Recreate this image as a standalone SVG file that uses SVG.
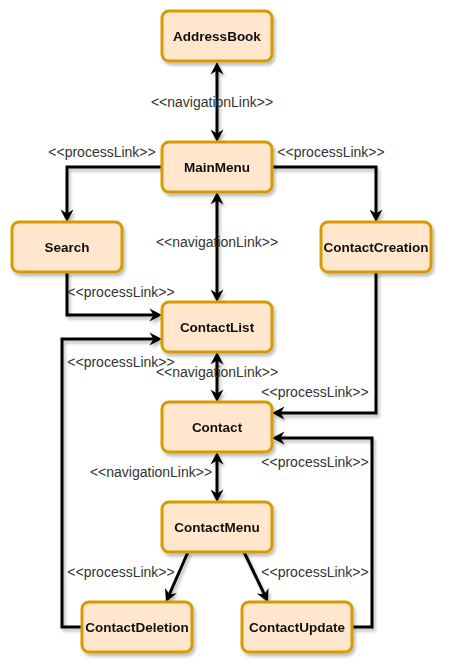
<svg xmlns="http://www.w3.org/2000/svg" width="450" height="672" viewBox="0 0 450 672">
<style>
.node rect{fill:#ffe6cc;stroke:#d79b00;stroke-width:3}
.node text{font-family:"Liberation Sans",Arial,sans-serif;font-size:13.5px;font-weight:bold;fill:#111;text-anchor:middle}
.edge{fill:none;stroke:#000;stroke-width:3}
.lbl{font-family:"Liberation Sans",Arial,sans-serif;font-size:14px;fill:#333;text-anchor:middle}
</style>
<defs>
<filter id="sh" x="-20%" y="-20%" width="140%" height="150%">
<feDropShadow dx="2" dy="3" stdDeviation="1.5" flood-color="#000" flood-opacity="0.25"/>
</filter>
<marker id="arr" viewBox="0 0 14 14" refX="9" refY="7" markerWidth="14" markerHeight="14" markerUnits="userSpaceOnUse" orient="auto-start-reverse">
<path d="M0.5,0.5 L13,7 L0.5,13.5 L4.5,7 Z" fill="#000"/>
</marker>
</defs>
<g id="connectors" filter="url(#sh)">
<path class="edge" d="M217,66 L217,138" marker-start="url(#arr)" marker-end="url(#arr)"/>
<path class="edge" d="M217,196 L217,298" marker-start="url(#arr)" marker-end="url(#arr)"/>
<path class="edge" d="M217,356 L217,398" marker-start="url(#arr)" marker-end="url(#arr)"/>
<path class="edge" d="M217,456 L217,498" marker-start="url(#arr)" marker-end="url(#arr)"/>
<path class="edge" d="M162,167 L67,167 L67,218" marker-end="url(#arr)"/>
<path class="edge" d="M272,167 L376,167 L376,218" marker-end="url(#arr)"/>
<path class="edge" d="M67,272 L67,315 L158,315" marker-end="url(#arr)"/>
<path class="edge" d="M82,627 L62,627 L62,339 L158,339" marker-end="url(#arr)"/>
<path class="edge" d="M376,272 L376,413 L276,413" marker-end="url(#arr)"/>
<path class="edge" d="M352,627 L372,627 L372,438 L276,438" marker-end="url(#arr)"/>
<path class="edge" d="M188,552 L167.6,598.3" marker-end="url(#arr)"/>
<path class="edge" d="M244,552 L266.3,598.4" marker-end="url(#arr)"/>
</g>
<g id="labels">
<text class="lbl" x="212" y="107">&lt;&lt;navigationLink&gt;&gt;</text>
<text class="lbl" x="102" y="157">&lt;&lt;processLink&gt;&gt;</text>
<text class="lbl" x="331" y="157">&lt;&lt;processLink&gt;&gt;</text>
<text class="lbl" x="217" y="247">&lt;&lt;navigationLink&gt;&gt;</text>
<text class="lbl" x="121" y="297">&lt;&lt;processLink&gt;&gt;</text>
<text class="lbl" x="121" y="367">&lt;&lt;processLink&gt;&gt;</text>
<text class="lbl" x="217" y="377">&lt;&lt;navigationLink&gt;&gt;</text>
<text class="lbl" x="315" y="397">&lt;&lt;processLink&gt;&gt;</text>
<text class="lbl" x="315" y="467">&lt;&lt;processLink&gt;&gt;</text>
<text class="lbl" x="151" y="477">&lt;&lt;navigationLink&gt;&gt;</text>
<text class="lbl" x="121" y="577">&lt;&lt;processLink&gt;&gt;</text>
<text class="lbl" x="315" y="577">&lt;&lt;processLink&gt;&gt;</text>
</g>
<g id="AddressBook" class="node" filter="url(#sh)"><rect x="162" y="11" width="110" height="50" rx="7"/><text x="217" y="41">AddressBook</text></g>
<g id="MainMenu" class="node" filter="url(#sh)"><rect x="162" y="142" width="110" height="50" rx="7"/><text x="217" y="172">MainMenu</text></g>
<g id="Search" class="node" filter="url(#sh)"><rect x="12" y="222" width="110" height="50" rx="7"/><text x="67" y="252">Search</text></g>
<g id="ContactCreation" class="node" filter="url(#sh)"><rect x="321" y="222" width="110" height="50" rx="7"/><text x="376" y="252">ContactCreation</text></g>
<g id="ContactList" class="node" filter="url(#sh)"><rect x="162" y="302" width="110" height="50" rx="7"/><text x="217" y="332">ContactList</text></g>
<g id="Contact" class="node" filter="url(#sh)"><rect x="162" y="402" width="110" height="50" rx="7"/><text x="217" y="432">Contact</text></g>
<g id="ContactMenu" class="node" filter="url(#sh)"><rect x="162" y="502" width="110" height="50" rx="7"/><text x="217" y="532">ContactMenu</text></g>
<g id="ContactDeletion" class="node" filter="url(#sh)"><rect x="82" y="602" width="110" height="50" rx="7"/><text x="137" y="632">ContactDeletion</text></g>
<g id="ContactUpdate" class="node" filter="url(#sh)"><rect x="242" y="602" width="110" height="50" rx="7"/><text x="297" y="632">ContactUpdate</text></g>
</svg>
